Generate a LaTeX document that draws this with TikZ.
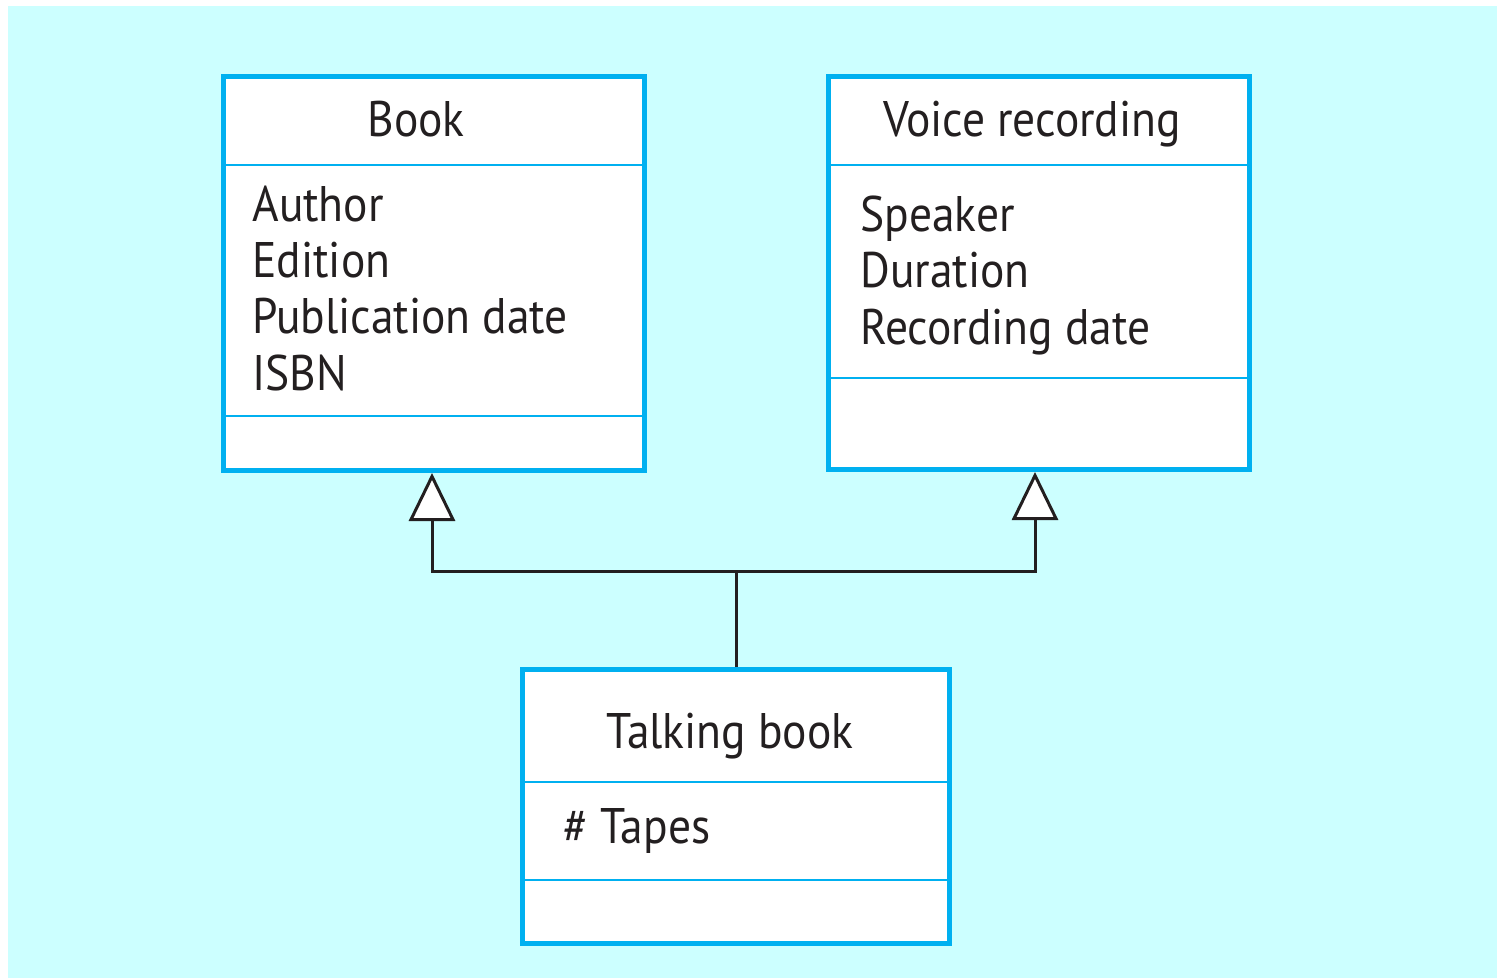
\documentclass[tikz,border=0pt]{standalone}
\usepackage{fontspec}
\setmainfont[FakeStretch=0.91]{PT Sans}
\usetikzlibrary{arrows.meta}
\definecolor{bgc}{HTML}{CCFFFF}
\definecolor{bord}{HTML}{00B0F0}
\definecolor{ink}{HTML}{231F20}
\tikzset{
  x=0.5pt, y=-0.5pt,
  classbox/.style={draw=bord, line width=2.5pt, fill=white, rectangle, inner sep=0pt},
  divider/.style={draw=bord, line width=1pt},
  lbl/.style={anchor=base west, inner sep=0pt, text=ink, font=\fontsize{25}{30}\selectfont},
  ttl/.style={anchor=base, inner sep=0pt, text=ink, font=\fontsize{25}{30}\selectfont},
  conn/.style={draw=ink, line width=1.5pt},
  gen/.style={-{Triangle[open, length=24pt, width=23pt, fill=white]}}
}
\begin{document}
\begin{tikzpicture}
\useasboundingbox (0,0) rectangle (1497,978);
\fill[bgc] (8,6) rectangle (1497,978);
% class boxes
\node[classbox, minimum width=210.5pt, minimum height=197pt] (book) at (434,273.5) {};
\node[classbox, minimum width=210.5pt, minimum height=196.5pt] (voice) at (1039,273) {};
\node[classbox, minimum width=213.5pt, minimum height=137pt] (talk) at (736,806.5) {};
% dividers
\draw[divider] (book.west |- 0,165) -- (book.east |- 0,165);
\draw[divider] (book.west |- 0,416) -- (book.east |- 0,416);
\draw[divider] (voice.west |- 0,165) -- (voice.east |- 0,165);
\draw[divider] (voice.west |- 0,378) -- (voice.east |- 0,378);
\draw[divider] (talk.west |- 0,782) -- (talk.east |- 0,782);
\draw[divider] (talk.west |- 0,880) -- (talk.east |- 0,880);
% texts
\node[ttl] (tbook) at (416,137) {Book};
\node[lbl] (a1) at (252,222) {Author};
\node[lbl] (a2) at (252,278) {Edition};
\node[lbl] (a3) at (252,334) {Publication date};
\node[lbl] (a4) at (252,390) {ISBN};
\node[ttl] (tvoice) at (1032,137) {Voice recording};
\node[lbl] (v1) at (860,232) {Speaker};
\node[lbl] (v2) at (860,288) {Duration};
\node[lbl] (v3) at (860,344) {Recording date};
\node[ttl] (ttalk) at (730,748) {Talking book};
\node[lbl] (t1) at (563,843) {\# Tapes};
% generalisation connectors
\coordinate (j) at (736,571);
\draw[conn] (talk.north) -- (j);
\draw[conn, gen] (j) -| ([xshift=-1pt]book.south);
\draw[conn, gen] (j) -| ([xshift=-2pt]voice.south);
\end{tikzpicture}
\end{document}
